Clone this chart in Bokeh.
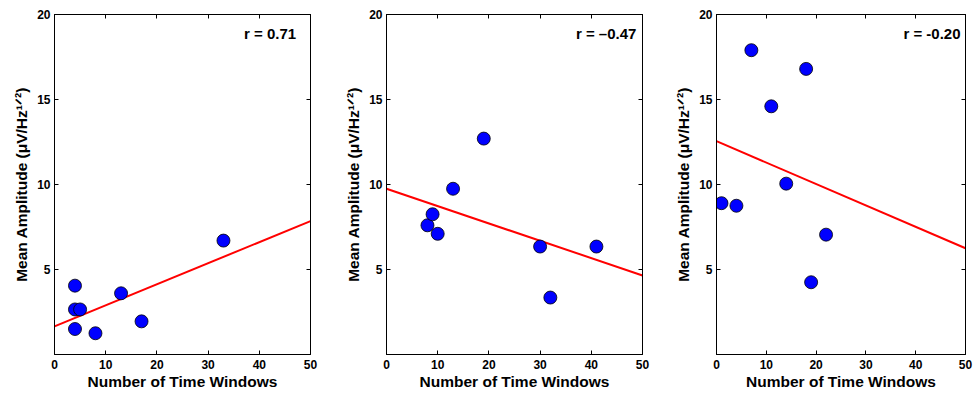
from bokeh.plotting import figure
from bokeh.layouts import row
from bokeh.models import Range1d, FixedTicker, LinearAxis, Label, CustomLabelingPolicy
from bokeh.embed import file_html
from bokeh.resources import INLINE

# ---- data -------------------------------------------------------------
x_ticks = [0, 10, 20, 30, 40, 50]
y_ticks = [5, 10, 15, 20]
x_lim = [0, 50]
y_lim = [0, 20]
x_label = "Number of Time Windows"
y_label = "Mean Amplitude (\u03bcV/Hz\u00b9\u141f\u00b2)"

p1_windows = [4, 4, 5, 4, 8, 13, 17, 33]
p1_amp = [4.05, 2.65, 2.65, 1.5, 1.25, 3.6, 1.95, 6.7]
p1_fit = [1.65, 7.85]          # fitted line value at x = 0 and x = 50
p1_r = "r = 0.71"

p2_windows = [8, 9, 10, 13, 19, 30, 32, 41]
p2_amp = [7.6, 8.25, 7.1, 9.75, 12.7, 6.35, 3.35, 6.35]
p2_fit = [9.75, 4.65]
p2_r = "r = \u20130.47"

p3_windows = [1, 4, 7, 11, 14, 18, 19, 22]
p3_amp = [8.9, 8.75, 17.9, 14.6, 10.05, 16.8, 4.25, 7.05]
p3_fit = [12.55, 6.25]
p3_r = "r = -0.20"

FONT = "Liberation Sans"

NO_LABELS = "for (const i of indices) { indices.unset(i) }\nreturn indices"


def style_axis(ax, ticks, labels=True):
    ax.ticker = FixedTicker(ticks=ticks)
    ax.axis_line_color = "black"
    ax.axis_line_width = 1
    ax.major_tick_line_color = "black"
    ax.major_tick_in = 4
    ax.major_tick_out = 0
    ax.minor_tick_line_color = None
    if labels:
        ax.major_label_text_font = FONT
        ax.major_label_text_font_style = "bold"
        ax.major_label_text_font_size = "12px"
        ax.major_label_text_color = "black"
        ax.axis_label_text_font = FONT
        ax.axis_label_text_font_style = "bold"
        ax.axis_label_text_font_size = "15.5px"
        ax.axis_label_text_color = "black"
    else:
        ax.major_label_policy = CustomLabelingPolicy(code=NO_LABELS)
        ax.major_label_standoff = 0
        ax.axis_label = None


def make_panel(xs, ys, fit, rtext, r_x, width, left, right):
    p = figure(width=width, height=393,
               x_range=Range1d(*x_lim), y_range=Range1d(*y_lim),
               output_backend="svg", toolbar_location=None,
               min_border_left=left, min_border_right=right,
               min_border_top=14, min_border_bottom=39)
    p.grid.visible = False
    p.outline_line_color = "black"
    p.outline_line_width = 1
    p.background_fill_color = "white"
    p.border_fill_color = "white"

    xa = p.xaxis[0]
    ya = p.yaxis[0]
    style_axis(xa, x_ticks)
    style_axis(ya, y_ticks)
    xa.axis_label = x_label
    ya.axis_label = y_label
    xa.major_label_standoff = 5
    xa.axis_label_standoff = 1
    ya.major_label_standoff = 4
    ya.axis_label_standoff = 4

    top = LinearAxis()
    style_axis(top, x_ticks, labels=False)
    p.add_layout(top, "above")
    rgt = LinearAxis()
    style_axis(rgt, y_ticks, labels=False)
    p.add_layout(rgt, "right")

    p.line(x_lim, fit, line_color="#ff0000", line_width=2)
    p.scatter(xs, ys, size=13, fill_color="#0000ff",
              line_color="black", line_width=0.8)

    p.add_layout(Label(x=r_x, y=18.9, text=rtext, text_align="right",
                       text_baseline="middle", text_font=FONT,
                       text_font_style="bold", text_font_size="15px",
                       text_color="black"))
    return p


f1 = make_panel(p1_windows, p1_amp, p1_fit, p1_r, 47.2, 331, 54, 21)
f2 = make_panel(p2_windows, p2_amp, p2_fit, p2_r, 48.8, 331, 55, 20)
f3 = make_panel(p3_windows, p3_amp, p3_fit, p3_r, 49.0, 318, 54, 8)

layout = row(f1, f2, f3, spacing=0)

open("out.html", "w").write(file_html(layout, INLINE))
